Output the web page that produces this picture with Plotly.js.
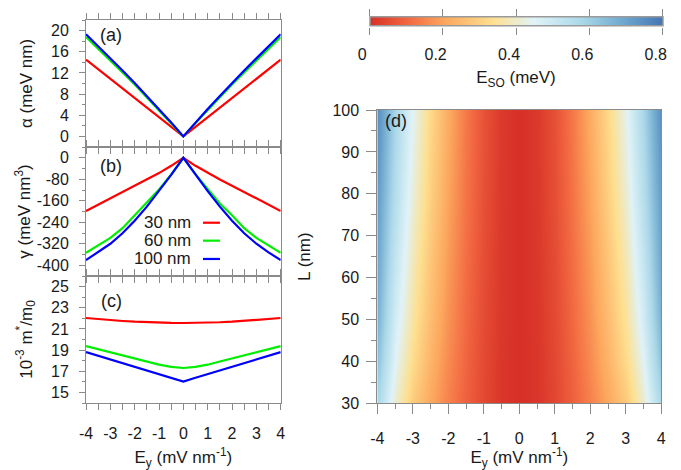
<!DOCTYPE html>
<html>
<head>
<meta charset="utf-8">
<script src="https://cdn.plot.ly/plotly-3.0.1.min.js"></script>
<style>
  html, body { margin: 0; padding: 0; background: #ffffff; }
  #chart { width: 681px; height: 470px; }
</style>
</head>
<body>
<div id="chart"></div>
<script>
// Transverse electric field sweep, E_y (mV nm^-1)
const eyVals = [-4, -3.5, -3, -2.5, -2, -1.5, -1, -0.5, 0, 0.5, 1, 1.5, 2, 2.5, 3, 3.5, 4];
const wellNames = ['30 nm', '60 nm', '100 nm'];

// (a) Rashba coefficient alpha (meV nm)
const alpha30  = [14.5, 12.69, 10.88, 9.06, 7.25, 5.44, 3.63, 1.8, 0, 1.8, 3.63, 5.44, 7.25, 9.06, 10.88, 12.69, 14.5];
const alpha60  = [18.8, 16.6, 14.35, 12.1, 9.8, 7.4, 5.0, 2.55, 0, 2.55, 5.0, 7.4, 9.8, 12.1, 14.35, 16.6, 18.8];
const alpha100 = [19.3, 17.05, 14.75, 12.45, 10.1, 7.65, 5.2, 2.65, 0, 2.65, 5.2, 7.65, 10.1, 12.45, 14.75, 17.05, 19.3];

// (b) cubic coefficient gamma (meV nm^3)
const gamma30  = [-198, -175, -151, -128, -104, -81, -57, -30, 0, -30, -57, -81, -104, -128, -151, -175, -198];
const gamma60  = [-354, -326, -298, -262, -214, -170, -118, -62, 0, -62, -118, -170, -214, -262, -298, -326, -354];
const gamma100 = [-381, -352, -320, -281, -234, -182, -124, -64, 0, -64, -124, -182, -234, -281, -320, -352, -381];

// (c) effective mass, 10^-3 m*/m0
const mass30  = [22.03, 21.92, 21.83, 21.75, 21.68, 21.63, 21.59, 21.57, 21.56, 21.57, 21.59, 21.63, 21.68, 21.75, 21.83, 21.92, 22.03];
const mass60  = [19.375, 19.08, 18.79, 18.5, 18.21, 17.92, 17.62, 17.42, 17.31, 17.42, 17.62, 17.92, 18.21, 18.5, 18.79, 19.08, 19.375];
const mass100 = [18.81, 18.46, 18.12, 17.77, 17.42, 17.07, 16.72, 16.38, 16.03, 16.38, 16.72, 17.07, 17.42, 17.77, 18.12, 18.46, 18.81];

// (d) spin-orbit energy E_SO (meV) over well width L (nm) and E_y
const lVals = [30, 40, 50, 60, 70, 80, 90, 100];
const esoL30  = [0.58, 0.405, 0.285, 0.21, 0.145, 0.09, 0.044, 0.012, 0, 0.012, 0.044, 0.09, 0.145, 0.21, 0.285, 0.405, 0.58];
const esoL40  = [0.635, 0.445, 0.325, 0.235, 0.16, 0.097, 0.047, 0.013, 0, 0.013, 0.047, 0.097, 0.16, 0.235, 0.325, 0.445, 0.635];
const esoL50  = [0.67, 0.48, 0.35, 0.255, 0.172, 0.104, 0.05, 0.014, 0, 0.014, 0.05, 0.104, 0.172, 0.255, 0.35, 0.48, 0.67];
const esoL60  = [0.69, 0.505, 0.37, 0.27, 0.182, 0.11, 0.053, 0.015, 0, 0.015, 0.053, 0.11, 0.182, 0.27, 0.37, 0.505, 0.69];
const esoL70  = [0.705, 0.53, 0.39, 0.285, 0.192, 0.116, 0.056, 0.016, 0, 0.016, 0.056, 0.116, 0.192, 0.285, 0.39, 0.53, 0.705];
const esoL80  = [0.72, 0.55, 0.41, 0.30, 0.202, 0.122, 0.059, 0.017, 0, 0.017, 0.059, 0.122, 0.202, 0.30, 0.41, 0.55, 0.72];
const esoL90  = [0.735, 0.565, 0.425, 0.31, 0.21, 0.126, 0.061, 0.0175, 0, 0.0175, 0.061, 0.126, 0.21, 0.31, 0.425, 0.565, 0.735];
const esoL100 = [0.75, 0.58, 0.44, 0.322, 0.217, 0.13, 0.063, 0.018, 0, 0.018, 0.063, 0.13, 0.217, 0.322, 0.44, 0.58, 0.75];

// Tick values and labels
const eyTicks = [-4, -3, -2, -1, 0, 1, 2, 3, 4];
const eyTickText = ['-4', '-3', '-2', '-1', '0', '1', '2', '3', '4'];
const alphaTicks = [0, 4, 8, 12, 16, 20];
const gammaTicks = [0, -80, -160, -240, -320, -400];
const gammaTickText = ['0', '-80', '-160', '-240', '-320', '-400'];
const massTicks = [15, 17, 19, 21, 23, 25];
const lTicks = [30, 40, 50, 60, 70, 80, 90, 100];
const esoTicks = [0, 0.2, 0.4, 0.6, 0.8];
const esoTickText = ['0', '0.2', '0.4', '0.6', '0.8'];

// ---- styling ----
const FONT = 'Liberation Sans, Arial, Helvetica, sans-serif';
const TXT = '#1a1a1a';
const AX = '#8a8a8a';
const lineColors = ['#ff0000', '#00ee00', '#0000ff'];
const W = 681, H = 470;
const px = v => v / W;
const py = v => 1 - v / H;

const leftDom = [px(86), px(280.7)];
const rightDom = [px(377.3), px(661.3)];

function eyAxis(domain, anchor, opts) {
  return Object.assign({
    domain: domain, anchor: anchor, range: [-4, 4],
    tickmode: 'array', tickvals: eyTicks, ticktext: eyTickText,
    ticks: 'outside', ticklen: 6, tickwidth: 1, tickcolor: AX,
    minor: { tickmode: 'linear', tick0: -4, dtick: 0.5, ticks: 'outside', ticklen: 6, tickwidth: 1, tickcolor: AX },
    showline: true, linecolor: AX, linewidth: 1, mirror: 'ticks',
    showgrid: false, zeroline: false, showticklabels: false,
    tickfont: { family: FONT, size: 16, color: TXT }, ticklabelstandoff: 10,
    fixedrange: true
  }, opts || {});
}

function valAxis(domain, anchor, range, tickvals, ticktext, minorStep, title, standoff) {
  return {
    domain: domain, anchor: anchor, range: range,
    tickmode: 'array', tickvals: tickvals, ticktext: ticktext,
    ticks: 'outside', ticklen: 6, tickwidth: 1, tickcolor: AX,
    minor: { tickmode: 'linear', tick0: tickvals[0], dtick: minorStep, ticks: 'outside', ticklen: 3, tickwidth: 1, tickcolor: AX },
    showline: true, linecolor: AX, linewidth: 1, mirror: true,
    showgrid: false, zeroline: false,
    tickfont: { family: FONT, size: 16, color: TXT }, ticklabelstandoff: 7,
    title: { text: title, font: { family: FONT, size: 17, color: TXT }, standoff: standoff },
    fixedrange: true
  };
}

function lineTrace(xa, ya, yvals, i) {
  return {
    type: 'scatter', mode: 'lines', x: eyVals, y: yvals,
    xaxis: xa, yaxis: ya, name: wellNames[i], showlegend: false,
    line: { color: lineColors[i], width: 2.2 }, hoverinfo: 'skip'
  };
}

const esoScale = [
  [0.00, '#d73027'],
  [0.13, '#f26841'],
  [0.26, '#fca95f'],
  [0.42, '#fee090'],
  [0.56, '#e0f3f8'],
  [0.72, '#abd9e9'],
  [0.85, '#74add1'],
  [1.00, '#4575b4']
];

const traces = [
  lineTrace('x', 'y', alpha30, 0),
  lineTrace('x', 'y', alpha60, 1),
  lineTrace('x', 'y', alpha100, 2),
  lineTrace('x2', 'y2', gamma30, 0),
  lineTrace('x2', 'y2', gamma60, 1),
  lineTrace('x2', 'y2', gamma100, 2),
  lineTrace('x3', 'y3', mass30, 0),
  lineTrace('x3', 'y3', mass60, 1),
  lineTrace('x3', 'y3', mass100, 2),
  {
    type: 'heatmap', x: eyVals, y: lVals,
    z: [esoL30, esoL40, esoL50, esoL60, esoL70, esoL80, esoL90, esoL100],
    xaxis: 'x4', yaxis: 'y4', zsmooth: 'best', zmin: 0, zmax: 0.8,
    colorscale: esoScale, hoverinfo: 'skip',
    colorbar: {
      orientation: 'h', x: px(516), xanchor: 'center', y: py(22), yanchor: 'middle',
      len: 293.4, lenmode: 'pixels', thickness: 9.4, thicknessmode: 'pixels',
      outlinecolor: '#9a9a9a', outlinewidth: 1.5, showticklabels: false, ticks: '',
      xpad: 0, ypad: 0
    }
  },
  // carriers for the colour-bar scale axes
  { type: 'scatter', x: [], y: [], xaxis: 'x5', yaxis: 'y5', showlegend: false, hoverinfo: 'skip' },
  { type: 'scatter', x: [], y: [], xaxis: 'x6', yaxis: 'y5', showlegend: false, hoverinfo: 'skip' }
];

const panelFont = { family: FONT, size: 18, color: TXT };
const legFont = { family: FONT, size: 17, color: TXT };
const legendRows = [0.413, 0.274, 0.132];

const annotations = [
  { text: '(a)', xref: 'x domain', yref: 'y domain', x: 0.062, y: 0.882, xanchor: 'left', yanchor: 'middle', showarrow: false, font: panelFont },
  { text: '(b)', xref: 'x2 domain', yref: 'y2 domain', x: 0.062, y: 0.853, xanchor: 'left', yanchor: 'middle', showarrow: false, font: panelFont },
  { text: '(c)', xref: 'x3 domain', yref: 'y3 domain', x: 0.066, y: 0.80, xanchor: 'left', yanchor: 'middle', showarrow: false, font: panelFont },
  { text: '(d)', xref: 'x4 domain', yref: 'y4 domain', x: 0.019, y: 0.964, xanchor: 'left', yanchor: 'middle', showarrow: false, font: panelFont }
];
const shapes = [];
wellNames.forEach((name, i) => {
  annotations.push({ text: name, xref: 'x2 domain', yref: 'y2 domain', x: 0.552, y: legendRows[i],
    xanchor: 'right', yanchor: 'middle', showarrow: false, font: legFont });
  shapes.push({ type: 'line', xref: 'x2 domain', yref: 'y2 domain', x0: 0.601, x1: 0.688,
    y0: legendRows[i], y1: legendRows[i], line: { color: lineColors[i], width: 2.2 } });
});

const eyTitle = { text: 'E<sub>y</sub> (mV nm<sup>-1</sup>)', font: { family: FONT, size: 17, color: TXT }, standoff: 10 };

const layout = {
  width: W, height: H,
  margin: { l: 0, r: 0, t: 0, b: 0 },
  paper_bgcolor: '#ffffff', plot_bgcolor: '#ffffff',
  showlegend: false,
  font: { family: FONT, size: 16, color: TXT },

  xaxis:  eyAxis(leftDom, 'y'),
  xaxis2: eyAxis(leftDom, 'y2'),
  xaxis3: eyAxis(leftDom, 'y3', { showticklabels: true, title: eyTitle }),
  yaxis:  valAxis([py(147), py(20)], 'x', [-2, 22], alphaTicks, alphaTicks.map(String), 2, 'α (meV nm)', 14),
  yaxis2: valAxis([py(276), py(147)], 'x2', [-440, 40], gammaTicks, gammaTickText, 40, 'γ (meV nm<sup>3</sup>)', 1),
  yaxis3: valAxis([py(403), py(276)], 'x3', [14, 26], massTicks, massTicks.map(String), 1, '10<sup>-3</sup> m<sup>*</sup>/m<sub>0</sub>', 14),

  xaxis4: eyAxis(rightDom, 'y4', {
    showticklabels: true, title: eyTitle, mirror: true, ticklen: 10,
    minor: { tickmode: 'linear', tick0: -4, dtick: 0.5, ticks: 'outside', ticklen: 5, tickwidth: 1, tickcolor: AX }
  }),
  yaxis4: {
    domain: [py(403.3), py(110)], anchor: 'x4', range: [30, 100],
    tickmode: 'array', tickvals: lTicks, ticktext: lTicks.map(String),
    ticks: 'outside', ticklen: 10, tickwidth: 1, tickcolor: AX,
    minor: { tickmode: 'linear', tick0: 30, dtick: 5, ticks: 'outside', ticklen: 5, tickwidth: 1, tickcolor: AX },
    showline: true, linecolor: AX, linewidth: 1, mirror: true,
    showgrid: false, zeroline: false,
    tickfont: { family: FONT, size: 16, color: TXT }, ticklabelstandoff: 4,
    title: { text: 'L (nm)', font: { family: FONT, size: 17, color: TXT }, standoff: 17 },
    fixedrange: true
  },

  // scale axes drawn along the colour bar
  xaxis5: {
    domain: [px(369.3), px(662.7)], anchor: 'y5', range: [0, 0.8], side: 'bottom',
    tickmode: 'array', tickvals: esoTicks, ticktext: esoTickText,
    ticks: 'outside', ticklen: 7, tickwidth: 1, tickcolor: AX,
    showline: false, showgrid: false, zeroline: false,
    tickfont: { family: FONT, size: 16, color: TXT }, ticklabelstandoff: 6, ticklabelshift: -7,
    title: { text: 'E<sub>SO</sub> (meV)', font: { family: FONT, size: 17, color: TXT }, standoff: 9 },
    fixedrange: true
  },
  xaxis6: {
    overlaying: 'x5', anchor: 'y5', range: [0, 0.8], side: 'top',
    tickmode: 'array', tickvals: esoTicks,
    ticks: 'outside', ticklen: 7, tickwidth: 1, tickcolor: AX,
    showticklabels: false, showline: false, showgrid: false, zeroline: false,
    fixedrange: true
  },
  yaxis5: { domain: [py(26.7), py(17.3)], anchor: 'x5', range: [0, 1], visible: false, fixedrange: true },

  annotations: annotations,
  shapes: shapes
};

Plotly.newPlot('chart', traces, layout, { displayModeBar: false, staticPlot: true });
</script>
</body>
</html>
